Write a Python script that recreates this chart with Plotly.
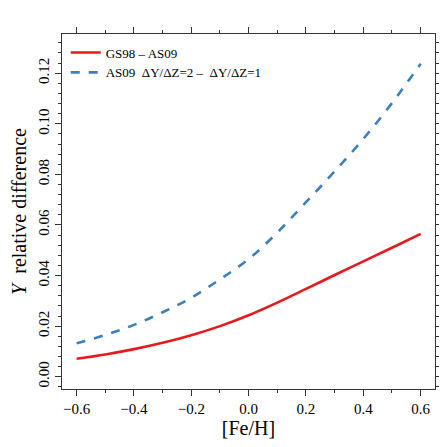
import plotly.graph_objects as go

feh = [-0.6, -0.5, -0.4, -0.3, -0.2, -0.1, 0.0, 0.1, 0.2, 0.3, 0.4, 0.5, 0.6]
gs98_as09 = [0.0071, 0.0088, 0.0109, 0.0134, 0.0164, 0.0200, 0.0243, 0.0293, 0.0347, 0.0402, 0.0456, 0.0510, 0.0565]
dydz_diff = [0.0132, 0.0165, 0.0205, 0.0255, 0.0312, 0.0385, 0.0465, 0.0570, 0.0690, 0.0812, 0.0940, 0.1082, 0.1237]

FONT = "Liberation Serif"
AX = "#333333"

fig = go.Figure()
fig.add_trace(go.Scatter(x=feh, y=gs98_as09, mode="lines", name="GS98 \u2013 AS09",
                         line=dict(color="#e8191c", width=2.6, shape="spline")))
fig.add_trace(go.Scatter(x=feh, y=dydz_diff, mode="lines",
                         name="AS09  \u0394Y/\u0394Z=2 \u2013  \u0394Y/\u0394Z=1",
                         line=dict(color="#3a80c0", width=2.6, dash="dash", shape="spline")))

axis_common = dict(showline=True, linecolor=AX, linewidth=1.2, mirror="allticks",
                   ticks="outside", tickcolor=AX, ticklen=6, showgrid=False, zeroline=False,
                   automargin=False,
                   tickfont=dict(family=FONT, size=15, color="black"))

# page body has an 8px margin, so the figure is a bit smaller than the window
fig.update_layout(
    width=439, height=439,
    margin=dict(l=54, r=12, t=26, b=58),
    paper_bgcolor="white", plot_bgcolor="white",
    font=dict(family=FONT, color="black"),
    showlegend=True,
    legend=dict(x=0.01, y=0.99, xanchor="left", yanchor="top",
                bgcolor="rgba(0,0,0,0)", font=dict(family=FONT, size=13),
                tracegroupgap=0),
    xaxis=dict(range=[-0.651, 0.65], tickvals=[-0.6, -0.4, -0.2, 0.0, 0.2, 0.4, 0.6],
               ticktext=["\u22120.6", "\u22120.4", "\u22120.2", "0.0", "0.2", "0.4", "0.6"],
               minor=dict(dtick=0.1, tick0=0, ticklen=3, ticks="outside", tickcolor=AX),
               title=dict(text="[Fe/H]", font=dict(family=FONT, size=20), standoff=4),
               **axis_common),
    yaxis=dict(range=[-0.00486, 0.1355], tickvals=[0.0, 0.02, 0.04, 0.06, 0.08, 0.10, 0.12],
               ticktext=["0.00", "0.02", "0.04", "0.06", "0.08", "0.10", "0.12"],
               tickangle=-90,
               minor=dict(dtick=0.004, tick0=0, ticklen=3, ticks="outside", tickcolor=AX),
               title=dict(text="<i>Y</i>  relative difference", font=dict(family=FONT, size=20), standoff=4),
               **axis_common),
)

fig.write_html("out.html")
